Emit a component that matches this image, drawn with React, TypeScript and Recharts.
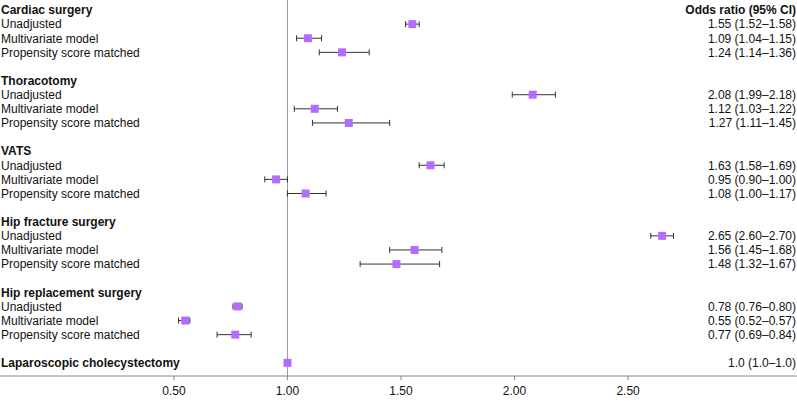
import React from "react";
import {
  ScatterChart,
  Scatter,
  XAxis,
  YAxis,
  ZAxis,
  ErrorBar,
  ReferenceLine,
} from "recharts";

const groups = [
  "Cardiac surgery",
  "Thoracotomy",
  "VATS",
  "Hip fracture surgery",
  "Hip replacement surgery",
];
const methods = ["Unadjusted", "Multivariate model", "Propensity score matched"];

// odds ratio and 95% CI per group, in method order
const oddsRatio = [
  [1.55, 1.09, 1.24],
  [2.08, 1.12, 1.27],
  [1.63, 0.95, 1.08],
  [2.65, 1.56, 1.48],
  [0.78, 0.55, 0.77],
];
const ciLower = [
  [1.52, 1.04, 1.14],
  [1.99, 1.03, 1.11],
  [1.58, 0.9, 1.0],
  [2.6, 1.45, 1.32],
  [0.76, 0.52, 0.69],
];
const ciUpper = [
  [1.58, 1.15, 1.36],
  [2.18, 1.22, 1.45],
  [1.69, 1.0, 1.17],
  [2.7, 1.68, 1.67],
  [0.8, 0.57, 0.84],
];

const refGroup = "Laparoscopic cholecystectomy";
const refValue = [1.0, 1.0, 1.0];

const xTicks = [0.5, 1.0, 1.5, 2.0, 2.5];

const fmt = (v: number, d: number) => v.toFixed(d);
const ciText = (or: number, lo: number, hi: number, d = 2) =>
  `${fmt(or, d)} (${fmt(lo, d)}–${fmt(hi, d)})`;

type Row = { label: string; bold: boolean; ci?: string };
const rows: Record<number, Row> = {};
const points: { or: number; row: number; err: [number, number] }[] = [];

groups.forEach((g, gi) => {
  const base = gi * 5;
  rows[base] = { label: g, bold: true };
  methods.forEach((m, mi) => {
    const or = oddsRatio[gi][mi];
    const lo = ciLower[gi][mi];
    const hi = ciUpper[gi][mi];
    rows[base + mi + 1] = { label: m, bold: false, ci: ciText(or, lo, hi) };
    points.push({ or, row: base + mi + 1, err: [or - lo, hi - or] });
  });
});
const refRow = groups.length * 5;
rows[refRow] = {
  label: refGroup,
  bold: true,
  ci: ciText(refValue[0], refValue[1], refValue[2], 1),
};
points.push({ or: refValue[0], row: refRow, err: [0, 0] });

const rowTicks = Object.keys(rows).map(Number);

const FONT = "'Liberation Sans', Arial, Helvetica, sans-serif";

const RowTick = (props: any) => {
  const { y, payload } = props;
  const r = rows[payload.value];
  if (!r) return null;
  return (
    <g>
      <text
        x={1}
        y={y}
        dy="0.36em"
        textAnchor="start"
        fontSize={12}
        fontWeight={r.bold ? 700 : 400}
        fill="#111"
      >
        {r.label}
      </text>
      {payload.value === 0 && (
        <text x={796} y={y} dy="0.36em" textAnchor="end" fontSize={12} fontWeight={700} fill="#111">
          Odds ratio (95% CI)
        </text>
      )}
      {r.ci && (
        <text x={796} y={y} dy="0.36em" textAnchor="end" fontSize={12} fill="#111">
          {r.ci}
        </text>
      )}
    </g>
  );
};

export default function App() {
  return (
    <div
      style={{
        position: "absolute",
        left: 0,
        top: 0,
        width: 797,
        height: 401,
        background: "#fff",
        fontFamily: FONT,
      }}
    >
      <ScatterChart
        width={797}
        height={401}
        margin={{ top: 0, right: 0, bottom: 0, left: -1 }}
        style={{ fontFamily: FONT }}
      >
        <XAxis
          type="number"
          dataKey="or"
          domain={[-0.266, 3.244]}
          ticks={xTicks}
          tickFormatter={(v) => fmt(v, 2)}
          height={25}
          stroke="#888"
          tickSize={4}
          tickMargin={6}
          tick={{ fill: "#111", fontSize: 12 }}
          allowDataOverflow
        />
        <YAxis
          type="number"
          dataKey="row"
          domain={[-0.71, 25.93]}
          reversed
          ticks={rowTicks}
          interval={0}
          width={1}
          axisLine={false}
          tickLine={false}
          tick={RowTick}
          allowDataOverflow
        />
        <ZAxis range={[49, 49]} />
        <ReferenceLine x={1} stroke="#999" strokeWidth={1} />
        <Scatter
          data={points}
          shape="square"
          fill="#b46bff"
          isAnimationActive={false}
        >
          <ErrorBar
            dataKey="err"
            direction="x"
            width={3}
            stroke="#333"
            strokeWidth={1}
            isAnimationActive={false}
          />
        </Scatter>
      </ScatterChart>
    </div>
  );
}
